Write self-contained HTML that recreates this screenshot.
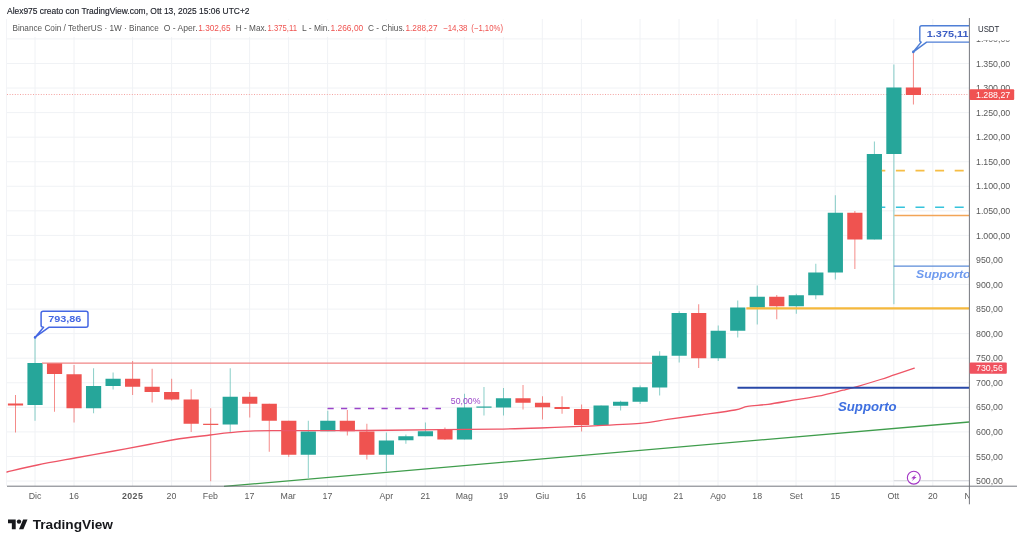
<!DOCTYPE html>
<html lang="it"><head><meta charset="utf-8"><title>Binance Coin / TetherUS - TradingView</title>
<style>
html,body{margin:0;padding:0;background:#fff;}
body{width:1024px;height:545px;overflow:hidden;position:relative;font-family:"Liberation Sans",sans-serif;}
svg{position:absolute;left:0;top:0;display:block;}
text{font-family:"Liberation Sans",sans-serif;}
.ax{font-size:8.8px;fill:#5a5a5a;}
.tm{font-size:8.8px;fill:#5a5a5a;text-anchor:middle;}
.lg{font-size:8.6px;fill:#555;}
.lg.rv,.rv{fill:#ef5350;}
.hd{font-size:8.6px;fill:#1c1f28;stroke:#1c1f28;stroke-width:0.15px;}
</style></head><body>
<svg width="1024" height="545" viewBox="0 0 1024 545">
<rect x="0" y="0" width="1024" height="545" fill="#ffffff"/>

<g stroke="#f0f2f5" stroke-width="1">
<line x1="35" y1="19" x2="35" y2="486"/>
<line x1="74" y1="19" x2="74" y2="486"/>
<line x1="132.6" y1="19" x2="132.6" y2="486"/>
<line x1="171.6" y1="19" x2="171.6" y2="486"/>
<line x1="210.6" y1="19" x2="210.6" y2="486"/>
<line x1="249.6" y1="19" x2="249.6" y2="486"/>
<line x1="288.6" y1="19" x2="288.6" y2="486"/>
<line x1="327.6" y1="19" x2="327.6" y2="486"/>
<line x1="386.2" y1="19" x2="386.2" y2="486"/>
<line x1="425.2" y1="19" x2="425.2" y2="486"/>
<line x1="464.3" y1="19" x2="464.3" y2="486"/>
<line x1="503.3" y1="19" x2="503.3" y2="486"/>
<line x1="542.3" y1="19" x2="542.3" y2="486"/>
<line x1="581.4" y1="19" x2="581.4" y2="486"/>
<line x1="640" y1="19" x2="640" y2="486"/>
<line x1="679" y1="19" x2="679" y2="486"/>
<line x1="718" y1="19" x2="718" y2="486"/>
<line x1="757" y1="19" x2="757" y2="486"/>
<line x1="796" y1="19" x2="796" y2="486"/>
<line x1="835.2" y1="19" x2="835.2" y2="486"/>
<line x1="893.8" y1="19" x2="893.8" y2="486"/>
<line x1="932.8" y1="19" x2="932.8" y2="486"/>
<line x1="7" y1="481.00" x2="969" y2="481.00"/>
<line x1="7" y1="456.44" x2="969" y2="456.44"/>
<line x1="7" y1="431.88" x2="969" y2="431.88"/>
<line x1="7" y1="407.32" x2="969" y2="407.32"/>
<line x1="7" y1="382.76" x2="969" y2="382.76"/>
<line x1="7" y1="358.20" x2="969" y2="358.20"/>
<line x1="7" y1="333.64" x2="969" y2="333.64"/>
<line x1="7" y1="309.08" x2="969" y2="309.08"/>
<line x1="7" y1="284.52" x2="969" y2="284.52"/>
<line x1="7" y1="259.96" x2="969" y2="259.96"/>
<line x1="7" y1="235.40" x2="969" y2="235.40"/>
<line x1="7" y1="210.84" x2="969" y2="210.84"/>
<line x1="7" y1="186.28" x2="969" y2="186.28"/>
<line x1="7" y1="161.72" x2="969" y2="161.72"/>
<line x1="7" y1="137.16" x2="969" y2="137.16"/>
<line x1="7" y1="112.60" x2="969" y2="112.60"/>
<line x1="7" y1="88.04" x2="969" y2="88.04"/>
<line x1="7" y1="63.48" x2="969" y2="63.48"/>
<line x1="7" y1="38.92" x2="969" y2="38.92"/>
</g>
<line x1="6.5" y1="19" x2="6.5" y2="486" stroke="#f3f4f7" stroke-width="1"/>
<line x1="893.8" y1="480.7" x2="969" y2="480.7" stroke="#d5d7dc" stroke-width="1"/>
<line x1="7" y1="94.5" x2="969" y2="94.5" stroke="#f4a3a1" stroke-width="1" stroke-dasharray="1 1.6"/>
<g>
<line x1="15.50" y1="395" x2="15.50" y2="432.5" stroke="#ef5350" stroke-width="0.9" opacity="0.75"/>
<rect x="7.90" y="403.5" width="15.2" height="2.00" fill="#ef5350"/>
<line x1="35.02" y1="337.5" x2="35.02" y2="420.75" stroke="#26a69a" stroke-width="0.9" opacity="0.6"/>
<rect x="27.42" y="363" width="15.2" height="42.00" fill="#26a69a"/>
<line x1="54.54" y1="363" x2="54.54" y2="411.75" stroke="#ef5350" stroke-width="0.9" opacity="0.75"/>
<rect x="46.94" y="363" width="15.2" height="11.00" fill="#ef5350"/>
<line x1="74.06" y1="365" x2="74.06" y2="422.5" stroke="#ef5350" stroke-width="0.9" opacity="0.75"/>
<rect x="66.46" y="374.25" width="15.2" height="34.00" fill="#ef5350"/>
<line x1="93.58" y1="368.25" x2="93.58" y2="413.25" stroke="#26a69a" stroke-width="0.9" opacity="0.6"/>
<rect x="85.98" y="386" width="15.2" height="22.25" fill="#26a69a"/>
<line x1="113.10" y1="372.5" x2="113.10" y2="389.5" stroke="#26a69a" stroke-width="0.9" opacity="0.6"/>
<rect x="105.50" y="378.75" width="15.2" height="7.25" fill="#26a69a"/>
<line x1="132.62" y1="361" x2="132.62" y2="395" stroke="#ef5350" stroke-width="0.9" opacity="0.75"/>
<rect x="125.02" y="378.75" width="15.2" height="8.00" fill="#ef5350"/>
<line x1="152.14" y1="368.75" x2="152.14" y2="402.5" stroke="#ef5350" stroke-width="0.9" opacity="0.75"/>
<rect x="144.54" y="386.75" width="15.2" height="5.25" fill="#ef5350"/>
<line x1="171.66" y1="378.75" x2="171.66" y2="400.5" stroke="#ef5350" stroke-width="0.9" opacity="0.75"/>
<rect x="164.06" y="392" width="15.2" height="7.50" fill="#ef5350"/>
<line x1="191.18" y1="389.25" x2="191.18" y2="432" stroke="#ef5350" stroke-width="0.9" opacity="0.75"/>
<rect x="183.58" y="399.5" width="15.2" height="24.25" fill="#ef5350"/>
<line x1="210.70" y1="408.25" x2="210.70" y2="481.25" stroke="#ef5350" stroke-width="0.9" opacity="0.75"/>
<rect x="203.10" y="423.75" width="15.2" height="1.20" fill="#ef5350"/>
<line x1="230.22" y1="368.25" x2="230.22" y2="433" stroke="#26a69a" stroke-width="0.9" opacity="0.6"/>
<rect x="222.62" y="396.75" width="15.2" height="27.75" fill="#26a69a"/>
<line x1="249.74" y1="392" x2="249.74" y2="417.5" stroke="#ef5350" stroke-width="0.9" opacity="0.75"/>
<rect x="242.14" y="396.75" width="15.2" height="7.00" fill="#ef5350"/>
<line x1="269.26" y1="403.75" x2="269.26" y2="451.75" stroke="#ef5350" stroke-width="0.9" opacity="0.75"/>
<rect x="261.66" y="403.75" width="15.2" height="17.00" fill="#ef5350"/>
<line x1="288.78" y1="420.75" x2="288.78" y2="457" stroke="#ef5350" stroke-width="0.9" opacity="0.75"/>
<rect x="281.18" y="420.75" width="15.2" height="34.00" fill="#ef5350"/>
<line x1="308.30" y1="420.75" x2="308.30" y2="478" stroke="#26a69a" stroke-width="0.9" opacity="0.6"/>
<rect x="300.70" y="431.5" width="15.2" height="23.25" fill="#26a69a"/>
<line x1="327.82" y1="410.75" x2="327.82" y2="431.25" stroke="#26a69a" stroke-width="0.9" opacity="0.6"/>
<rect x="320.22" y="420.75" width="15.2" height="10.50" fill="#26a69a"/>
<line x1="347.34" y1="410" x2="347.34" y2="435.5" stroke="#ef5350" stroke-width="0.9" opacity="0.75"/>
<rect x="339.74" y="420.75" width="15.2" height="10.50" fill="#ef5350"/>
<line x1="366.86" y1="423.75" x2="366.86" y2="459.5" stroke="#ef5350" stroke-width="0.9" opacity="0.75"/>
<rect x="359.26" y="431.5" width="15.2" height="23.25" fill="#ef5350"/>
<line x1="386.38" y1="432.5" x2="386.38" y2="471.25" stroke="#26a69a" stroke-width="0.9" opacity="0.6"/>
<rect x="378.78" y="440.5" width="15.2" height="14.25" fill="#26a69a"/>
<line x1="405.90" y1="434.5" x2="405.90" y2="443.75" stroke="#26a69a" stroke-width="0.9" opacity="0.6"/>
<rect x="398.30" y="436.25" width="15.2" height="4.00" fill="#26a69a"/>
<line x1="425.42" y1="422.5" x2="425.42" y2="436.25" stroke="#26a69a" stroke-width="0.9" opacity="0.6"/>
<rect x="417.82" y="431.25" width="15.2" height="5.00" fill="#26a69a"/>
<line x1="444.94" y1="427.5" x2="444.94" y2="440" stroke="#ef5350" stroke-width="0.9" opacity="0.75"/>
<rect x="437.34" y="430" width="15.2" height="9.50" fill="#ef5350"/>
<line x1="464.46" y1="393.75" x2="464.46" y2="439.5" stroke="#26a69a" stroke-width="0.9" opacity="0.6"/>
<rect x="456.86" y="407.5" width="15.2" height="32.00" fill="#26a69a"/>
<line x1="483.98" y1="387" x2="483.98" y2="415.5" stroke="#26a69a" stroke-width="0.9" opacity="0.6"/>
<rect x="476.38" y="406.5" width="15.2" height="1.20" fill="#26a69a"/>
<line x1="503.50" y1="388" x2="503.50" y2="415.5" stroke="#26a69a" stroke-width="0.9" opacity="0.6"/>
<rect x="495.90" y="398.25" width="15.2" height="9.25" fill="#26a69a"/>
<line x1="523.02" y1="385" x2="523.02" y2="409.5" stroke="#ef5350" stroke-width="0.9" opacity="0.75"/>
<rect x="515.42" y="398.25" width="15.2" height="4.50" fill="#ef5350"/>
<line x1="542.54" y1="396.25" x2="542.54" y2="419.5" stroke="#ef5350" stroke-width="0.9" opacity="0.75"/>
<rect x="534.94" y="402.75" width="15.2" height="4.50" fill="#ef5350"/>
<line x1="562.06" y1="396.25" x2="562.06" y2="413.75" stroke="#ef5350" stroke-width="0.9" opacity="0.75"/>
<rect x="554.46" y="407" width="15.2" height="2.00" fill="#ef5350"/>
<line x1="581.58" y1="404.5" x2="581.58" y2="431.5" stroke="#ef5350" stroke-width="0.9" opacity="0.75"/>
<rect x="573.98" y="409" width="15.2" height="16.00" fill="#ef5350"/>
<line x1="601.10" y1="405.5" x2="601.10" y2="425" stroke="#26a69a" stroke-width="0.9" opacity="0.6"/>
<rect x="593.50" y="405.5" width="15.2" height="19.50" fill="#26a69a"/>
<line x1="620.62" y1="400.75" x2="620.62" y2="410.5" stroke="#26a69a" stroke-width="0.9" opacity="0.6"/>
<rect x="613.02" y="401.75" width="15.2" height="4.00" fill="#26a69a"/>
<line x1="640.14" y1="385.5" x2="640.14" y2="404" stroke="#26a69a" stroke-width="0.9" opacity="0.6"/>
<rect x="632.54" y="387.25" width="15.2" height="14.50" fill="#26a69a"/>
<line x1="659.66" y1="351.25" x2="659.66" y2="395.5" stroke="#26a69a" stroke-width="0.9" opacity="0.6"/>
<rect x="652.06" y="355.75" width="15.2" height="31.75" fill="#26a69a"/>
<line x1="679.18" y1="311.25" x2="679.18" y2="362.5" stroke="#26a69a" stroke-width="0.9" opacity="0.6"/>
<rect x="671.58" y="313" width="15.2" height="42.75" fill="#26a69a"/>
<line x1="698.70" y1="304.25" x2="698.70" y2="368" stroke="#ef5350" stroke-width="0.9" opacity="0.75"/>
<rect x="691.10" y="313" width="15.2" height="45.25" fill="#ef5350"/>
<line x1="718.22" y1="325.5" x2="718.22" y2="361" stroke="#26a69a" stroke-width="0.9" opacity="0.6"/>
<rect x="710.62" y="330.75" width="15.2" height="27.50" fill="#26a69a"/>
<line x1="737.74" y1="300.5" x2="737.74" y2="337.5" stroke="#26a69a" stroke-width="0.9" opacity="0.6"/>
<rect x="730.14" y="307.5" width="15.2" height="23.25" fill="#26a69a"/>
<line x1="757.26" y1="285.5" x2="757.26" y2="324.5" stroke="#26a69a" stroke-width="0.9" opacity="0.6"/>
<rect x="749.66" y="296.75" width="15.2" height="10.75" fill="#26a69a"/>
<line x1="776.78" y1="295" x2="776.78" y2="319.25" stroke="#ef5350" stroke-width="0.9" opacity="0.75"/>
<rect x="769.18" y="296.75" width="15.2" height="9.50" fill="#ef5350"/>
<line x1="796.30" y1="293.75" x2="796.30" y2="313.75" stroke="#26a69a" stroke-width="0.9" opacity="0.6"/>
<rect x="788.70" y="295.25" width="15.2" height="11.00" fill="#26a69a"/>
<line x1="815.82" y1="263.75" x2="815.82" y2="299.25" stroke="#26a69a" stroke-width="0.9" opacity="0.6"/>
<rect x="808.22" y="272.5" width="15.2" height="22.75" fill="#26a69a"/>
<line x1="835.34" y1="195.25" x2="835.34" y2="279.5" stroke="#26a69a" stroke-width="0.9" opacity="0.6"/>
<rect x="827.74" y="212.75" width="15.2" height="59.75" fill="#26a69a"/>
<line x1="854.86" y1="211" x2="854.86" y2="269" stroke="#ef5350" stroke-width="0.9" opacity="0.75"/>
<rect x="847.26" y="212.75" width="15.2" height="26.75" fill="#ef5350"/>
<line x1="874.38" y1="141.5" x2="874.38" y2="239.5" stroke="#26a69a" stroke-width="0.9" opacity="0.6"/>
<rect x="866.78" y="154" width="15.2" height="85.50" fill="#26a69a"/>
<line x1="893.90" y1="64.5" x2="893.90" y2="304.25" stroke="#26a69a" stroke-width="0.9" opacity="0.6"/>
<rect x="886.30" y="87.5" width="15.2" height="66.50" fill="#26a69a"/>
<line x1="913.42" y1="51.75" x2="913.42" y2="104.5" stroke="#ef5350" stroke-width="0.9" opacity="0.75"/>
<rect x="905.82" y="87.5" width="15.2" height="7.50" fill="#ef5350"/>
</g>
<line x1="42" y1="363" x2="652.5" y2="363" stroke="#f08585" stroke-width="1.25"/>
<line x1="224" y1="486.4" x2="969" y2="422" stroke="#3f9d4c" stroke-width="1.3"/>
<path fill="none" stroke="#ee5566" stroke-width="1.3" stroke-linecap="round" d="M7,472 C12.08,470.83 26.17,467.33 37.5,465 C48.83,462.67 62.50,460.29 75,458 C87.50,455.71 100.00,453.54 112.5,451.25 C125.00,448.96 139.58,446.21 150,444.25 C160.42,442.29 165.00,441.04 175,439.5 C185.00,437.96 200.83,436.15 210,435 C219.17,433.85 222.50,433.28 230,432.6 C237.50,431.92 245.00,431.22 255,430.9 C265.00,430.58 271.67,430.77 290,430.7 C308.33,430.63 340.00,430.67 365,430.5 C390.00,430.33 418.17,429.92 440,429.7 C461.83,429.48 479.33,429.48 496,429.2 C512.67,428.92 526.00,428.47 540,428 C554.00,427.53 563.33,427.17 580,426.4 C596.67,425.63 625.42,424.57 640,423.4 C654.58,422.23 657.50,420.80 667.5,419.4 C677.50,418.00 688.75,416.57 700,415 C711.25,413.43 727.08,411.45 735,410 C742.92,408.55 742.00,407.25 747.5,406.3 C753.00,405.35 760.42,405.32 768,404.3 C775.58,403.28 784.67,401.55 793,400.2 C801.33,398.85 809.67,397.87 818,396.2 C826.33,394.53 836.33,391.85 843,390.2 C849.67,388.55 851.75,388.08 858,386.3 C864.25,384.52 874.33,381.45 880.5,379.5 C886.67,377.55 889.37,376.48 895,374.6 C900.63,372.72 911.08,369.27 914.3,368.2"/>
<line x1="746.3" y1="308.4" x2="969" y2="308.4" stroke="#f5b83d" stroke-width="2.2"/>
<line x1="737.5" y1="387.8" x2="969" y2="387.8" stroke="#2848a8" stroke-width="2"/>
<line x1="893.8" y1="266.1" x2="969" y2="266.1" stroke="#5b8bd8" stroke-width="1.4"/>
<line x1="894.3" y1="215.5" x2="969" y2="215.5" stroke="#f2a557" stroke-width="1.4"/>
<line x1="881.8" y1="170.6" x2="969" y2="170.6" stroke="#f6bd45" stroke-width="1.6" stroke-dasharray="9 10.6" stroke-dashoffset="5.5"/>
<line x1="881.8" y1="207.3" x2="969" y2="207.3" stroke="#35c3dc" stroke-width="1.6" stroke-dasharray="9 10.6" stroke-dashoffset="5.5"/>
<line x1="327.5" y1="408.5" x2="441" y2="408.5" stroke="#9b45c9" stroke-width="1.3" stroke-dasharray="6.2 7.3"/>
<text x="450.8" y="404.2" font-size="9.3" fill="#9b45c9" textLength="29.7" lengthAdjust="spacingAndGlyphs">50,00%</text>
<text x="838" y="411.3" font-size="13.2" font-weight="bold" font-style="italic" fill="#3d6fe0">Supporto</text>
<clipPath id="cp"><rect x="7" y="19" width="962" height="467"/></clipPath>
<g clip-path="url(#cp)">
<text x="916" y="278.3" font-size="11.8" font-weight="bold" font-style="italic" fill="#6f9bef" textLength="54.5" lengthAdjust="spacingAndGlyphs">Supporto</text>
<path d="M921.7 25.8 H975 V42.1 H926.6 L913.4 51.8 L921.2 42.1 Q919.8 42.1 919.8 40.1 V27.8 Q919.8 25.8 921.7 25.8 Z" fill="#fff" stroke="#4f7fd6" stroke-width="1.45" stroke-linejoin="round"/>
<circle cx="913.3" cy="51.9" r="1.3" fill="#4a7bd4"/>
<text x="926.8" y="36.6" font-size="9.3" font-weight="bold" fill="#3d5fc4" textLength="41.7" lengthAdjust="spacingAndGlyphs">1.375,11</text>
</g>
<path d="M43.2 311.2 H86 Q88 311.2 88 313.2 V325.3 Q88 327.3 86 327.3 H48.8 L35.2 337.2 L43.6 327.3 Q41.1 327.3 41.1 325.3 V313.2 Q41.1 311.2 43.2 311.2 Z" fill="#fff" stroke="#4567e3" stroke-width="1.5" stroke-linejoin="round"/>
<circle cx="35.1" cy="337.4" r="1.3" fill="#4567e3"/>
<text x="48.2" y="321.9" font-size="9.4" font-weight="bold" fill="#4567e3" textLength="33.2" lengthAdjust="spacingAndGlyphs">793,86</text>
<circle cx="913.8" cy="477.7" r="6.45" fill="#fff" stroke="#a335c4" stroke-width="1.1"/>
<path d="M916.2 474.2 L911.2 478.3 L913.5 478.5 L911.6 481.2 L916.6 477.1 L914.3 476.9 Z" fill="#a335c4"/>
<line x1="7" y1="486.2" x2="1017" y2="486.2" stroke="#6e7178" stroke-width="0.95"/>
<line x1="969.4" y1="18" x2="969.4" y2="504.3" stroke="#6e7178" stroke-width="0.95"/>
<text class="ax" x="976" y="484.10">500,00</text>
<text class="ax" x="976" y="459.54">550,00</text>
<text class="ax" x="976" y="434.98">600,00</text>
<text class="ax" x="976" y="410.42">650,00</text>
<text class="ax" x="976" y="385.86">700,00</text>
<text class="ax" x="976" y="361.30">750,00</text>
<text class="ax" x="976" y="336.74">800,00</text>
<text class="ax" x="976" y="312.18">850,00</text>
<text class="ax" x="976" y="287.62">900,00</text>
<text class="ax" x="976" y="263.06">950,00</text>
<text class="ax" x="976" y="238.50">1.000,00</text>
<text class="ax" x="976" y="213.94">1.050,00</text>
<text class="ax" x="976" y="189.38">1.100,00</text>
<text class="ax" x="976" y="164.82">1.150,00</text>
<text class="ax" x="976" y="140.26">1.200,00</text>
<text class="ax" x="976" y="115.70">1.250,00</text>
<text class="ax" x="976" y="91.14">1.300,00</text>
<text class="ax" x="976" y="66.58">1.350,00</text>
<text class="ax" x="976" y="42.02">1.400,00</text>
<rect x="970" y="18" width="54" height="22.3" fill="#fff"/>
<text x="978" y="32.4" font-size="8.8" fill="#2a2e39" textLength="21.3" lengthAdjust="spacingAndGlyphs">USDT</text>
<rect x="969.6" y="89.2" width="44.6" height="10.9" rx="1" fill="#f05252"/>
<text x="976" y="97.8" font-size="8.8" fill="#fff">1.288,27</text>
<rect x="969.6" y="362.5" width="37.2" height="11.2" rx="1" fill="#f0525f"/>
<text x="976" y="371.2" font-size="8.8" fill="#fff">730,56</text>
<text class="tm" x="35" y="499.3">Dic</text>
<text class="tm" x="74" y="499.3">16</text>
<text class="tm" x="171.4" y="499.3">20</text>
<text class="tm" x="210.4" y="499.3">Feb</text>
<text class="tm" x="249.4" y="499.3">17</text>
<text class="tm" x="288.2" y="499.3">Mar</text>
<text class="tm" x="327.4" y="499.3">17</text>
<text class="tm" x="386.3" y="499.3">Apr</text>
<text class="tm" x="425.3" y="499.3">21</text>
<text class="tm" x="464.3" y="499.3">Mag</text>
<text class="tm" x="503.3" y="499.3">19</text>
<text class="tm" x="542.3" y="499.3">Giu</text>
<text class="tm" x="581" y="499.3">16</text>
<text class="tm" x="639.8" y="499.3">Lug</text>
<text class="tm" x="678.5" y="499.3">21</text>
<text class="tm" x="718" y="499.3">Ago</text>
<text class="tm" x="757.2" y="499.3">18</text>
<text class="tm" x="796" y="499.3">Set</text>
<text class="tm" x="835.3" y="499.3">15</text>
<text class="tm" x="893.4" y="499.3">Ott</text>
<text class="tm" x="932.8" y="499.3">20</text>
<text class="tm" x="132.6" y="499.3" font-weight="bold" fill="#333" letter-spacing="0.4">2025</text>
<clipPath id="cp2"><rect x="900" y="487" width="69" height="20"/></clipPath>
<text x="964.4" y="499.3" font-size="8.8" fill="#5a5a5a" clip-path="url(#cp2)">Nov</text>
<rect x="7" y="19.5" width="500" height="17.5" fill="#fff" opacity="0.85"/>
<text class="hd" x="7" y="14" textLength="242.50" lengthAdjust="spacingAndGlyphs" >Alex975 creato con TradingView.com, Ott 13, 2025 15:06 UTC+2</text>
<text class="lg" x="12.5" y="31.3" textLength="146.25" lengthAdjust="spacingAndGlyphs" >Binance Coin / TetherUS · 1W · Binance</text>
<text class="lg" x="163.75" y="31.3" textLength="33.85" lengthAdjust="spacingAndGlyphs" >O - Aper.</text>
<text class="lg rv" x="198.25" y="31.3" textLength="32.25" lengthAdjust="spacingAndGlyphs" >1.302,65</text>
<text class="lg" x="235.75" y="31.3" textLength="31.15" lengthAdjust="spacingAndGlyphs" >H - Max.</text>
<text class="lg rv" x="267.5" y="31.3" textLength="29.50" lengthAdjust="spacingAndGlyphs" >1.375,11</text>
<text class="lg" x="302" y="31.3" textLength="27.90" lengthAdjust="spacingAndGlyphs" >L - Min.</text>
<text class="lg rv" x="330.5" y="31.3" textLength="32.75" lengthAdjust="spacingAndGlyphs" >1.266,00</text>
<text class="lg" x="368.1" y="31.3" textLength="36.80" lengthAdjust="spacingAndGlyphs" >C - Chius.</text>
<text class="lg rv" x="405.5" y="31.3" textLength="32.00" lengthAdjust="spacingAndGlyphs" >1.288,27</text>
<text class="lg rv" x="443" y="31.3" textLength="24.50" lengthAdjust="spacingAndGlyphs" >−14,38</text>
<text class="lg rv" x="471.25" y="31.3" textLength="31.75" lengthAdjust="spacingAndGlyphs" >(−1,10%)</text>
<g transform="translate(8,517.2) scale(0.55)" fill="#17181c"><path d="M14 22H7V11H0V4h14v18zM28 22h-8l7.5-18h8L28 22z"/><circle cx="20" cy="8" r="4"/></g>
<text x="32.7" y="529.1" font-size="13.4" font-weight="bold" fill="#17181c" textLength="80.3" lengthAdjust="spacingAndGlyphs">TradingView</text>
</svg></body></html>
